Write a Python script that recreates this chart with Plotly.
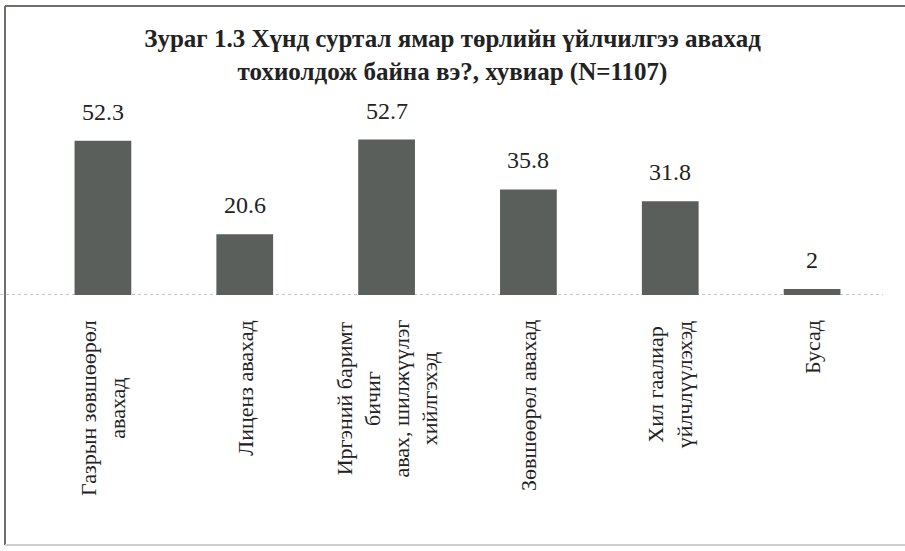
import plotly.graph_objects as go

# Survey categories (line breaks as printed under the bars)
categories = [
    "Газрын зөвшөөрөл<br>авахад",
    "Лиценз авахад",
    "Иргэний баримт<br>бичиг<br>авах, шилжүүлэг<br>хийлгэхэд",
    "Зөвшөөрөл авахад",
    "Хил гаалиар<br>үйлчлүүлэхэд",
    "Бусад",
]
values = [52.3, 20.6, 52.7, 35.8, 31.8, 2]
title_text = "<b>Зураг 1.3 Хүнд суртал ямар төрлийн үйлчилгээ авахад<br>тохиолдож байна вэ?, хувиар (N=1107)</b>"

FONT = "'Times New Roman', 'Liberation Serif', 'DejaVu Serif', serif"
BAR_COLOR = "#5a5f5b"

W, H = 905, 551
L, R, T, B = 32, 22, 118, 256
pw, ph = W - L - R, H - T - B


def px_x(x):
    return (x - L) / pw


def px_y(y):
    return (H - B - y) / ph


fig = go.Figure(
    go.Bar(
        x=list(range(len(categories))),
        y=values,
        marker=dict(color=BAR_COLOR, line=dict(width=0)),
        width=0.40,
        hoverinfo="skip",
    )
)

annotations = []
# value labels above bars
for i, v in enumerate(values):
    annotations.append(dict(
        x=i, y=v, xref="x", yref="y", text=f"{v:g}", showarrow=False,
        yanchor="bottom", yshift=14,
        font=dict(family=FONT, size=24, color="#222222"),
    ))
# rotated category labels under the baseline
for i, c in enumerate(categories):
    annotations.append(dict(
        x=i, y=0, xref="x", yref="paper", text=c, showarrow=False,
        textangle=-90, yanchor="top", xanchor="center", align="center",
        yshift=-23,
        font=dict(family=FONT, size=22, color="#222222"),
    ))

shapes = [
    # dotted baseline
    dict(type="line", xref="paper", yref="y", x0=px_x(0), x1=px_x(883), y0=0, y1=0,
         line=dict(color="#8a8a8a", width=1, dash="dot"), layer="below"),
    # frame: left and top edges dark, bottom edge light
    dict(type="line", xref="paper", yref="paper", x0=px_x(5), x1=px_x(5),
         y0=px_y(6), y1=px_y(545), line=dict(color="#6b706b", width=2)),
    dict(type="line", xref="paper", yref="paper", x0=px_x(5), x1=px_x(905),
         y0=px_y(6), y1=px_y(6), line=dict(color="#6b706b", width=2)),
    dict(type="line", xref="paper", yref="paper", x0=px_x(5), x1=px_x(905),
         y0=px_y(545), y1=px_y(545), line=dict(color="#cfcfcf", width=2)),
]

fig.update_layout(
    width=W, height=H,
    margin=dict(l=L, r=R, t=T, b=B, autoexpand=False),
    paper_bgcolor="white", plot_bgcolor="white",
    showlegend=False,
    title=dict(text=title_text, x=0.5, xref="container", xanchor="center",
               y=1 - 47 / H, yref="container", yanchor="top",
               font=dict(family=FONT, size=25, color="#222222")),
    xaxis=dict(range=[-0.5, len(categories) - 0.5], showticklabels=False,
               showgrid=False, zeroline=False, showline=False, ticks=""),
    yaxis=dict(range=[0, 60], showticklabels=False, showgrid=False,
               zeroline=False, showline=False, ticks=""),
    annotations=annotations,
    shapes=shapes,
)

fig.write_html("out.html")
